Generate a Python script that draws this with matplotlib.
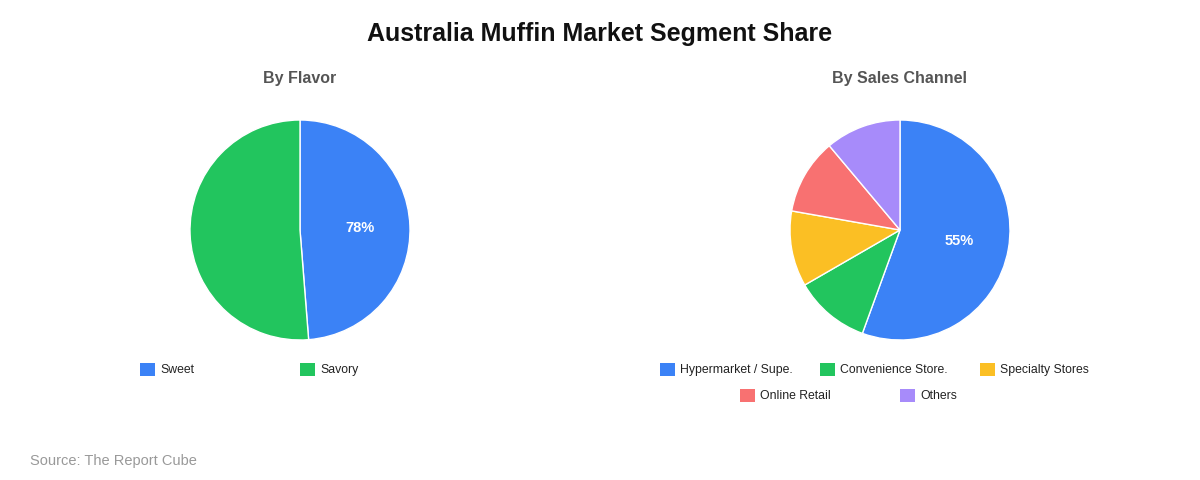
import matplotlib
matplotlib.use('Agg')
import matplotlib.pyplot as plt
import numpy as np
from matplotlib.patches import Rectangle

plt.rcParams['font.family'] = ['Liberation Sans', 'DejaVu Sans']

# Данные
flavor_labels = ['Sweet', 'Savory']
flavor_values = [78, 82]
flavor_colors = ['#3b82f6', '#22c55e']

channel_labels = ['Hypermarket / Supe.', 'Convenience Store.', 'Specialty Stores',
                  'Online Retail', 'Others']
channel_values = [55, 11, 11, 11, 11]
channel_colors = ['#3b82f6', '#22c55e', '#fbbf24', '#f87171', '#a78bfa']

W, H = 1200, 480
fig = plt.figure(figsize=(12, 4.8), dpi=100)
fig.patch.set_facecolor('white')


def px(x, y):
    return x / W, 1 - y / H


def draw_pie(cx, title, values, colors):
    r = 110
    ax = fig.add_axes([(cx - r) / W, (H - 230 - r) / H, 2 * r / W, 2 * r / H])
    ax.pie(values, colors=colors, startangle=90, counterclock=False,
           wedgeprops=dict(edgecolor='white', linewidth=1))
    # подпись только у первого сегмента
    total = sum(values)
    span = 360 * values[0] / total
    a = np.deg2rad(90 - span / 2)
    ax.text(0.55 * np.cos(a), 0.55 * np.sin(a), f'{values[0]}%', ha='center',
            va='center', color='white', fontsize=10.5, fontweight='bold')
    ax.set_xlim(-1, 1)
    ax.set_ylim(-1, 1)
    ax.set_aspect('equal')
    ax.axis('off')
    fig.text(*px(cx, 78), title, ha='center', va='center', fontsize=11.5,
             fontweight='bold', color='#555555')


def draw_legend(items, rows):
    k = 0
    for y, xs in rows:
        for x in xs:
            label, color = items[k]
            k += 1
            fig.patches.append(Rectangle(px(x, y + 6.5), 15 / W, 13 / H,
                                         transform=fig.transFigure,
                                         facecolor=color, edgecolor='none'))
            fig.text(*px(x + 20, y + 1), label, ha='left', va='center',
                     fontsize=8.8, color='#222222')


draw_pie(300, 'By Flavor', flavor_values, flavor_colors)
draw_pie(900, 'By Sales Channel', channel_values, channel_colors)

draw_legend(list(zip(flavor_labels, flavor_colors)), [(369, [140, 300])])
draw_legend(list(zip(channel_labels, channel_colors)),
            [(369, [660, 820, 980]), (395, [740, 900])])

fig.text(*px(600, 34), 'Australia Muffin Market Segment Share', ha='center',
         va='center', fontsize=18, fontweight='bold', color='#111111')
fig.text(*px(30, 461), 'Source: The Report Cube', ha='left', va='center',
         fontsize=10.5, color='#999999')

fig.savefig('out.png', dpi=100, facecolor='white')
